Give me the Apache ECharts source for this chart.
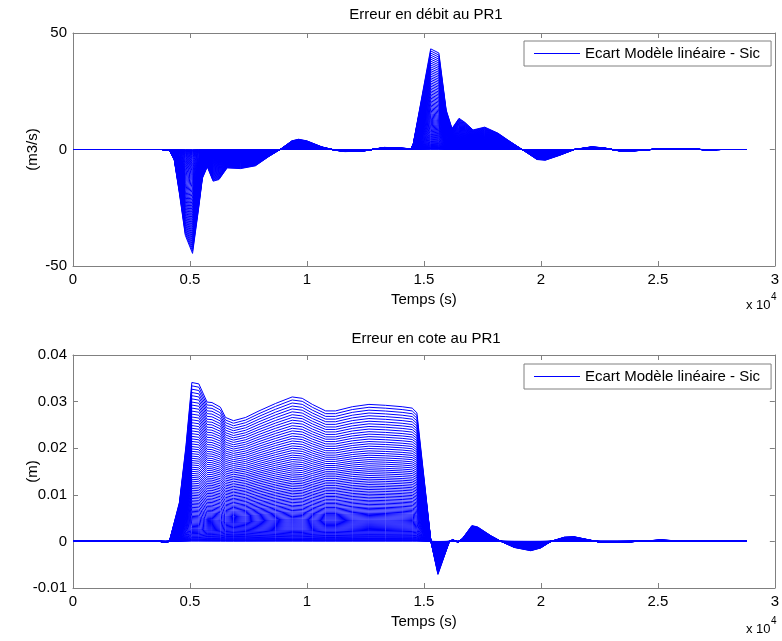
<!DOCTYPE html>
<html>
<head>
<meta charset="utf-8">
<script src="https://cdn.jsdelivr.net/npm/echarts@6/dist/echarts.min.js"></script>
<style>
html,body{margin:0;padding:0;background:#fff;}
#chart{width:782px;height:641px;}
</style>
</head>
<body>
<div id="chart"></div>
<script>
// ---- Data ----
const legendText = 'Ecart Modèle linéaire - Sic';

// Outer curve of the flow-error family (m3/s) over time (s)
const debitTimes = [0, 3800, 4120, 4330, 4550, 4800, 5110, 5360, 5530, 5740, 5990, 6240, 6590, 7160, 7800, 8360, 8850, 9350, 9640, 10000, 10640, 11200, 11620, 12400, 13300, 13900, 14450, 14550, 15290, 15640, 15950, 16200, 16500, 16760, 17100, 17600, 18170, 18600, 19200, 19830, 20190, 20830, 21430, 22170, 22700, 23340, 24000, 24700, 25470, 26100, 27060, 27700, 28800];
const debitOuter = [0, 0, -0.3, -4.6, -18.9, -36.8, -44.6, -26, -12.4, -7.4, -13.6, -12.9, -7.9, -8.2, -7, -3.1, 0, 3.7, 4.4, 3.7, 1.1, -0.3, -0.9, -0.7, 0.9, 0.7, 0.3, 2.7, 43.2, 41.4, 17, 9, 13.4, 11.6, 8.4, 9.6, 7, 4, 0, -4.3, -4.6, -2.4, 0, 1.15, 0.7, -0.6, -0.6, 0, 0.4, 0.3, -0.1, 0, 0];

// Outer curve of the level-error family (m) over time (s)
const coteTimes = [0, 3700, 3950, 4120, 4550, 4830, 5080, 5380, 5730, 5940, 6300, 6520, 6860, 7380, 7950, 8660, 9370, 9800, 10230, 10800, 11220, 11940, 12650, 13360, 14070, 14500, 14700, 15300, 15600, 16090, 16240, 16450, 16660, 17050, 17300, 17870, 18300, 18860, 19570, 20000, 20430, 21000, 21420, 21990, 22560, 23270, 24120, 25110, 25970, 26680, 28800];
const coteOuter = [0, 0, -0.0002, 0, 0.0084, 0.0205, 0.0341, 0.0338, 0.0299, 0.0298, 0.0288, 0.0266, 0.0259, 0.0266, 0.0280, 0.0296, 0.0310, 0.0307, 0.0294, 0.0280, 0.0280, 0.0289, 0.0294, 0.0292, 0.0289, 0.0286, 0.0276, 0, -0.0071, 0, 0.0004, -0.0002, 0.0007, 0.0034, 0.0031, 0.0012, 0, -0.0013, -0.0020, -0.0014, 0, 0.0009, 0.0010, 0.0004, -0.0002, -0.0002, 0, 0.0003, 0.0001, 0, 0];

// Relative amplitude of each curve of the family
const curveLevels = [1.00, 0.979, 0.958, 0.937, 0.917, 0.897, 0.877, 0.858, 0.839, 0.820, 0.801, 0.783, 0.765, 0.747, 0.729, 0.712, 0.695, 0.678, 0.661, 0.645, 0.629, 0.613, 0.597, 0.582, 0.567, 0.552, 0.537, 0.523, 0.509, 0.495, 0.481, 0.467, 0.454, 0.441, 0.428, 0.415, 0.403, 0.391, 0.379, 0.367, 0.355, 0.344, 0.333, 0.322, 0.311, 0.300, 0.290, 0.280, 0.270, 0.260, 0.250, 0.241, 0.232, 0.223, 0.214, 0.205, 0.197, 0.189, 0.181, 0.173, 0.165, 0.157, 0.150, 0.143, 0.136, 0.129, 0.122, 0.115, 0.108, 0.101, 0.094, 0.087, 0.080, 0.074, 0.068, 0.062, 0.056, 0.050, 0.045, 0.040, 0.035, 0.030, 0.025, 0.021, 0.017, 0.013, 0.010, 0.007, 0.004, 0.002];

const xTicks = ['0', '0.5', '1', '1.5', '2', '2.5', '3'];

// ---- Chart ----
const FONT = '"Liberation Sans", Arial, sans-serif';
const AXIS_GREY = '#808080';
const BLUE = '#0000ff';

const chart = echarts.init(document.getElementById('chart'), null, {renderer: 'canvas'});

const grids = [
  {left: 73, top: 33, width: 705, height: 233},
  {left: 73, top: 355, width: 705, height: 233}
];

function xAx(gi, pos) {
  const main = pos === 'bottom';
  return {
    gridIndex: gi, type: 'value', position: pos, min: 0, max: 30000, interval: 5000,
    axisLine: {show: true, onZero: false, lineStyle: {color: AXIS_GREY, width: 1}},
    axisTick: {show: true, inside: true, length: 5, lineStyle: {color: AXIS_GREY}},
    axisLabel: {show: main, color: '#000', fontSize: 15, fontFamily: FONT, margin: 6,
      formatter: v => xTicks[Math.round(v / 5000)]},
    splitLine: {show: false},
    name: main ? 'Temps (s)' : '', nameLocation: 'middle', nameGap: 26, nameMoveOverlap: false,
    nameTextStyle: {color: '#000', fontSize: 15, fontFamily: FONT}
  };
}
function yAx(gi, pos, min, max, interval, name, fmt) {
  const main = pos === 'left';
  return {
    gridIndex: gi, type: 'value', position: pos, min, max, interval,
    axisLine: {show: true, onZero: false, lineStyle: {color: AXIS_GREY, width: 1}},
    axisTick: {show: true, inside: true, length: 5, lineStyle: {color: AXIS_GREY}},
    axisLabel: {show: main, color: '#000', fontSize: 15, fontFamily: FONT, margin: 6, formatter: fmt},
    splitLine: {show: false},
    name: main ? name : '', nameLocation: 'middle', nameGap: 33, nameRotate: 90, nameMoveOverlap: false,
    nameTextStyle: {color: '#000', fontSize: 15, fontFamily: FONT}
  };
}

const series = [];
curveLevels.forEach(k => {
  series.push({
    type: 'line', name: 'debit', xAxisIndex: 0, yAxisIndex: 0,
    data: debitTimes.map((t, i) => [t, debitOuter[i] * k]),
    symbol: 'none', showSymbol: false, silent: true, z: 2,
    lineStyle: {width: 1, color: BLUE, opacity: 1}, itemStyle: {color: BLUE},
    emphasis: {disabled: true}
  });
});
curveLevels.forEach(k => {
  series.push({
    type: 'line', name: 'cote', xAxisIndex: 2, yAxisIndex: 2,
    data: coteTimes.map((t, i) => [t, coteOuter[i] * k]),
    symbol: 'none', showSymbol: false, silent: true, z: 2,
    lineStyle: {width: 1, color: BLUE, opacity: 1}, itemStyle: {color: BLUE},
    emphasis: {disabled: true}
  });
});

function legendAt(top, key) {
  return {
    data: [{name: key, icon: 'rect', itemStyle: {color: BLUE}}], left: 524, top: top, orient: 'horizontal',
    itemWidth: 46, itemHeight: 1,
    padding: [5, 11, 5, 10], borderColor: AXIS_GREY, borderWidth: 1, backgroundColor: '#fff',
    textStyle: {color: '#000', fontSize: 15, fontFamily: FONT},
    itemStyle: {color: BLUE, borderWidth: 0},
    formatter: () => legendText,
    selectedMode: false
  };
}

const option = {
  animation: false,
  color: [BLUE],
  backgroundColor: '#fff',
  grid: grids,
  xAxis: [xAx(0, 'bottom'), xAx(0, 'top'), xAx(1, 'bottom'), xAx(1, 'top')],
  yAxis: [
    yAx(0, 'left', -50, 50, 50, '(m3/s)', v => String(v)),
    yAx(0, 'right', -50, 50, 50, '', v => String(v)),
    yAx(1, 'left', -0.01, 0.04, 0.01, '(m)', v => String(+v.toFixed(2))),
    yAx(1, 'right', -0.01, 0.04, 0.01, '', v => String(v))
  ],
  legend: [legendAt(41, 'debit'), legendAt(364, 'cote')],
  graphic: [
    {type: 'text', x: 426, y: 15, style: {text: 'Erreur en débit au PR1', fill: '#000', font: '15px ' + FONT, align: 'center', verticalAlign: 'middle'}},
    {type: 'text', x: 426, y: 339, style: {text: 'Erreur en cote au PR1', fill: '#000', font: '15px ' + FONT, align: 'center', verticalAlign: 'middle'}},
    {type: 'text', x: 746, y: 305, style: {text: 'x 10', fill: '#000', font: '13px ' + FONT, align: 'left', verticalAlign: 'middle'}},
    {type: 'text', x: 771, y: 297, style: {text: '4', fill: '#000', font: '10px ' + FONT, align: 'left', verticalAlign: 'middle'}},
    {type: 'text', x: 746, y: 629, style: {text: 'x 10', fill: '#000', font: '13px ' + FONT, align: 'left', verticalAlign: 'middle'}},
    {type: 'text', x: 771, y: 621, style: {text: '4', fill: '#000', font: '10px ' + FONT, align: 'left', verticalAlign: 'middle'}}
  ],
  series: series
};
chart.setOption(option);
</script>
</body>
</html>
